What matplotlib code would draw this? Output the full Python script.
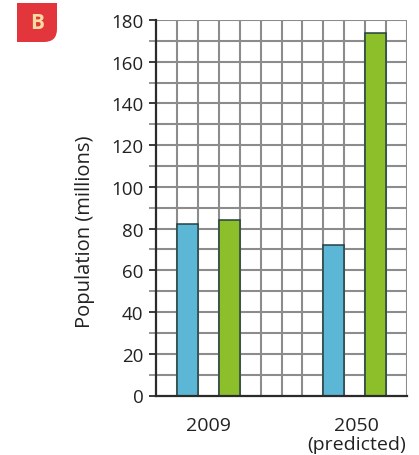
import matplotlib
matplotlib.use("Agg")
import matplotlib.pyplot as plt
from matplotlib.path import Path
from matplotlib.patches import PathPatch

# Population (millions) for the two series in each year group
categories = ["2009", "2050\n(predicted)"]
series_a = [82, 72]    # blue bars
series_b = [84, 174]   # green bars
y_ticks = [0, 20, 40, 60, 80, 100, 120, 140, 160, 180]

plt.rcParams["font.family"] = ["Open Sans", "DejaVu Sans"]

W, H = 419, 456
fig = plt.figure(figsize=(W / 100, H / 100), dpi=100)
fig.patch.set_facecolor("white")

left, right, top, bottom = 156, 407, 21, 396.5
ax = fig.add_axes([left / W, (H - bottom) / H, (right - left) / W, (bottom - top) / H])

grid_c = "#8c8c8c"
dark = "#2b2b2b"

# Grid: 12 columns, rows every 10 units
ax.set_xlim(0, 12)
ax.set_ylim(0, 180)
for xv in range(1, 13):
    ax.axvline(xv, color=grid_c, lw=1.5, zorder=1)
for yv in range(10, 181, 10):
    ax.axhline(yv, color=grid_c, lw=1.5, zorder=1)

# Bars: each series occupies one grid column within its group
group_starts = [1, 8]
blue = "#5cb7d6"
green = "#8dbf2b"
edge = "#26403f"
for i, g in enumerate(group_starts):
    ax.bar(g + 0.5, series_a[i], width=1.0, color=blue, edgecolor=edge, lw=1.1, zorder=3)
    ax.bar(g + 2.5, series_b[i], width=1.0, color=green, edgecolor=edge, lw=1.1, zorder=3)

# Axes styling
for s in ["top", "right"]:
    ax.spines[s].set_visible(False)
for s in ["left", "bottom"]:
    ax.spines[s].set_color(dark)
    ax.spines[s].set_linewidth(1.6)
    ax.spines[s].set_zorder(4)

ax.set_yticks(y_ticks)
ax.set_yticks(range(10, 180, 20), minor=True)
ax.tick_params(axis="y", which="major", length=5, width=1.3, color=dark,
               labelsize=13.5, labelcolor="#222222", pad=4)
ax.tick_params(axis="y", which="minor", length=5, width=1.3, color=grid_c)

ax.set_xticks([2.5, 9.6])
ax.set_xticklabels(categories, linespacing=1.05)
ax.tick_params(axis="x", length=0, labelsize=14, labelcolor="#222222", pad=15)

ax.set_ylabel("Population (millions)", fontsize=14.5, color="#222222")
ax.yaxis.set_label_coords(-0.243, 0.438)

# Section badge with rounded lower-right corner
def px(x, y):
    return (x / W, 1 - y / H)

x0, x1, y0, y1, r = 17, 57, 4, 43, 13
verts = [px(x0, y0), px(x1, y0), px(x1, y1 - r), px(x1, y1), px(x1 - r, y1),
         px(x0, y1), px(x0, y0)]
codes = [Path.MOVETO, Path.LINETO, Path.LINETO, Path.CURVE3, Path.CURVE3,
         Path.LINETO, Path.CLOSEPOLY]
badge = PathPatch(Path(verts, codes), transform=fig.transFigure,
                  facecolor="#e2363c", edgecolor="none")
fig.patches.append(badge)
fig.text(*px(37, 23.5), "B", color="#f8dca2", fontsize=15, fontweight="bold",
         ha="center", va="center")

fig.savefig("out.png", dpi=100, facecolor="white")
